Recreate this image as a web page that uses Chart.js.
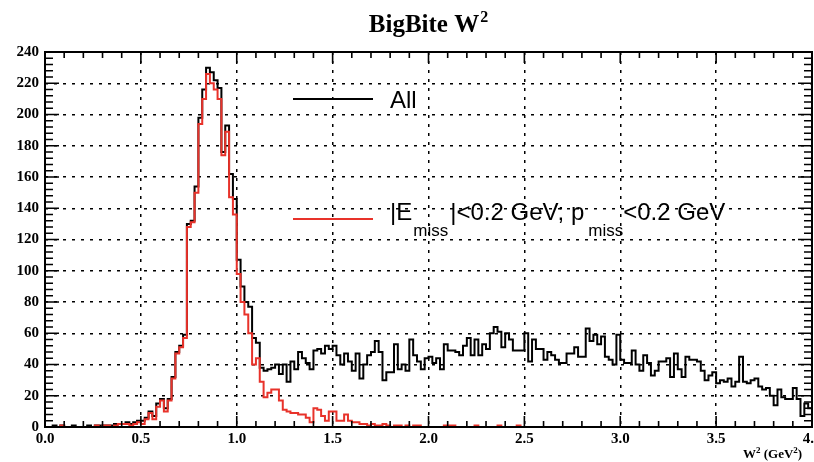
<!DOCTYPE html>
<html>
<head>
<meta charset="utf-8">
<script src="https://cdn.jsdelivr.net/npm/chart.js@4.4.1/dist/chart.umd.min.js"></script>
<style>
  html, body { margin: 0; padding: 0; background: #fff; }
  #contenedor { width: 814px; height: 462px; position: relative; }
</style>
</head>
<body>
<div id="contenedor"><canvas id="grafico-w2"></canvas></div>
<script>
// --- DATOS DEL HISTOGRAMA ---
// 200 bins de 0.02 GeV^2 entre 0 y 4
const W2_MIN = 0.0;
const W2_MAX = 4.0;
const N_BINS = 200;

// Todos los eventos (negro)
const conteoTodos = [
    0, 0, 1, 0, 1, 0, 0, 1, 0, 0,          // 0.0 - 0.2
    0, 1, 0, 1, 1, 1, 1, 1, 2, 2,
    2, 3, 2, 3, 4, 4, 6, 10, 7, 15,        // 0.4 - 0.6
    18, 12, 18, 32, 48, 52, 59, 130, 132, 154,
    198, 216, 230, 227, 222, 217, 176, 193, 162, 146,   // 0.8 - 1.0
    107, 90, 80, 77, 57, 54, 38, 36, 37, 38,
    40, 34, 40, 29, 42, 37, 48, 44, 41, 37,  // 1.2 - 1.4
    49, 50, 47, 52, 50, 52, 46, 40, 47, 42,
    36, 47, 31, 40, 46, 48, 55, 48, 30, 35,  // 1.6 - 1.8
    35, 53, 37, 40, 36, 56, 46, 42, 37, 44,
    45, 41, 44, 37, 53, 49, 49, 48, 46, 52,  // 2.0 - 2.2
    57, 46, 56, 46, 53, 50, 60, 64, 61, 51,
    60, 56, 49, 49, 49, 60, 42, 56, 50, 50,  // 2.4 - 2.6
    43, 48, 46, 43, 41, 41, 47, 47, 51, 45,
    45, 63, 55, 59, 53, 58, 45, 43, 40, 59,  // 2.8 - 3.0
    43, 41, 41, 49, 40, 36, 46, 41, 33, 36,
    42, 42, 44, 32, 47, 37, 32, 45, 43, 43,  // 3.2 - 3.4
    42, 36, 30, 33, 35, 28, 30, 29, 31, 26,
    29, 45, 29, 28, 30, 31, 26, 24, 25, 20,  // 3.6 - 3.8
    14, 24, 19, 18, 18, 25, 18, 7, 15, 12
];

// Con corte |E_miss| < 0.2 GeV, p_miss < 0.2 GeV (rojo)
const conteoCorte = [
    0, 0, 0, 0, 1, 0, 0, 0, 0, 0,
    0, 0, 0, 1, 0, 1, 1, 0, 1, 2,
    2, 2, 1, 2, 3, 2, 5, 9, 5, 13,
    17, 10, 17, 31, 47, 51, 57, 128, 131, 150,
    194, 210, 226, 220, 216, 210, 174, 189, 147, 136,
    98, 80, 72, 60, 40, 44, 29, 19, 22, 24,
    24, 17, 11, 10, 9, 9, 8, 8, 6, 3,
    12, 11, 7, 4, 10, 10, 4, 4, 8, 4,
    3, 3, 2, 2, 1, 2, 1, 1, 2, 1,
    0, 1, 1, 0, 1, 0, 1, 1, 0, 0,
    0, 0, 0, 0, 1, 1, 1, 0, 0, 0,
    0, 0, 1, 0, 0, 0, 0, 0, 1, 0,
    0, 0, 0, 1, 0, 0, 0, 0, 0, 0,
    0, 0, 0, 0, 0, 0, 0, 0, 0, 0,
    0, 0, 0, 0, 0, 0, 0, 0, 0, 0,
    0, 0, 0, 0, 0, 0, 0, 0, 0, 0,
    0, 0, 0, 0, 0, 0, 0, 0, 0, 0,
    0, 0, 0, 0, 0, 0, 0, 0, 0, 0,
    0, 0, 0, 0, 0, 0, 0, 0, 0, 0,
    0, 0, 0, 0, 0, 0, 0, 0, 0, 0
];

const ticksX = [0.0, 0.5, 1.0, 1.5, 2.0, 2.5, 3.0, 3.5, 4.0];
const etiquetasX = ['0.0', '0.5', '1.0', '1.5', '2.0', '2.5', '3.0', '3.5', '4.0'];
const ticksY = [0, 20, 40, 60, 80, 100, 120, 140, 160, 180, 200, 220, 240];

const ROJO = '#e8322a';
const FUENTE_EJES = 'bold 15px "Liberation Serif", "DejaVu Serif", serif';

// Convierte los conteos en puntos {x, y} en el borde izquierdo de cada bin
function puntosHistograma(conteos) {
    const ancho = (W2_MAX - W2_MIN) / N_BINS;
    const pts = conteos.map((c, i) => ({ x: W2_MIN + i * ancho, y: c }));
    pts.push({ x: W2_MAX, y: conteos[conteos.length - 1] }); // cierra el último escalón
    return pts;
}

// Dibuja un texto por partes (para sub/superíndices)
function textoPartes(ctx, partes, x, y) {
    partes.forEach(([t, fuente, dy, dx]) => {
        ctx.font = fuente;
        x += dx || 0;
        ctx.fillText(t, x, y + dy);
        x += ctx.measureText(t).width;
    });
}

// --- MARCO, TICKS, TÍTULO Y LEYENDA ESTILO ROOT ---
const estiloRoot = {
    id: 'estiloRoot',
    afterDraw(chart) {
        const { ctx, chartArea: a, scales: { x, y } } = chart;
        ctx.save();
        ctx.strokeStyle = '#000';
        ctx.lineWidth = 1.6;
        ctx.beginPath();
        for (let i = 0; i <= 40; i++) {
            const px = x.getPixelForValue(i / 10);
            const largo = i % 5 === 0 ? 11 : 6;
            ctx.moveTo(px, a.bottom); ctx.lineTo(px, a.bottom - largo);
            ctx.moveTo(px, a.top); ctx.lineTo(px, a.top + largo);
        }
        for (let v = 0; v <= 240; v += 4) {
            const py = y.getPixelForValue(v);
            const largo = v % 20 === 0 ? 14 : 8;
            ctx.moveTo(a.left, py); ctx.lineTo(a.left + largo, py);
            ctx.moveTo(a.right, py); ctx.lineTo(a.right - largo, py);
        }
        ctx.stroke();
        ctx.lineWidth = 2;
        ctx.strokeRect(a.left, a.top, a.right - a.left, a.bottom - a.top);

        // Título
        ctx.fillStyle = '#000';
        ctx.textBaseline = 'alphabetic';
        const fT = 'bold 25px "Liberation Serif", serif';
        const fTs = 'bold 16px "Liberation Serif", serif';
        ctx.font = fT;
        const w1 = ctx.measureText('BigBite W').width;
        ctx.font = fTs;
        const w2 = ctx.measureText('2').width;
        textoPartes(ctx, [['BigBite W', fT, 0], ['2', fTs, -10, 1]], 428 - (w1 + w2) / 2, 32);

        // Título del eje X
        const fE = 'bold 13px "Liberation Serif", serif';
        const fEs = 'bold 9px "Liberation Serif", serif';
        textoPartes(ctx, [['W', fE, 0], ['2', fEs, -5], [' (GeV', fE, 0], ['2', fEs, -5], [')', fE, 0]], 743, 458);

        // Leyenda
        const fL = '24px "Liberation Sans", Arial, sans-serif';
        const fLs = '17px "Liberation Sans", Arial, sans-serif';
        ctx.lineWidth = 2;
        ctx.strokeStyle = '#000';
        ctx.beginPath(); ctx.moveTo(293, 99); ctx.lineTo(373, 99); ctx.stroke();
        textoPartes(ctx, [['All', fL, 0]], 390, 108);
        ctx.strokeStyle = ROJO;
        ctx.beginPath(); ctx.moveTo(293, 219); ctx.lineTo(373, 219); ctx.stroke();
        textoPartes(ctx, [
            ['|E', fL, 0], ['miss', fLs, 16, 1], ['|<0.2 GeV; p', fL, 0, 2],
            ['miss', fLs, 16, 4], ['<0.2 GeV', fL, 0]
        ], 390, 220);
        ctx.restore();
    }
};

// --- GRÁFICO ---
const ctx = document.getElementById('grafico-w2').getContext('2d');

new Chart(ctx, {
    type: 'line',
    data: {
        datasets: [
            {
                label: '|E_miss|<0.2 GeV; p_miss<0.2 GeV',
                data: puntosHistograma(conteoCorte),
                borderColor: ROJO,
                borderWidth: 2,
                stepped: true,
                pointRadius: 0,
                fill: false
            },
            {
                label: 'All',
                data: puntosHistograma(conteoTodos),
                borderColor: '#000',
                borderWidth: 2,
                stepped: true,
                pointRadius: 0,
                fill: false
            }
        ]
    },
    options: {
        responsive: true,
        maintainAspectRatio: false,
        animation: false,
        events: [],
        layout: { padding: { top: 52, right: 2, left: 0, bottom: 0 } },
        plugins: {
            legend: { display: false },
            title: { display: false },
            tooltip: { enabled: false }
        },
        scales: {
            x: {
                type: 'linear',
                min: W2_MIN,
                max: W2_MAX,
                afterBuildTicks: s => { s.ticks = ticksX.map(v => ({ value: v })); },
                afterFit: s => { s.height = 35; s.paddingLeft = 0; s.paddingRight = 0; },
                ticks: {
                    color: '#000',
                    font: { family: '"Liberation Serif", serif', size: 15, weight: 'bold' },
                    padding: 3,
                    maxRotation: 0,
                    autoSkip: false,
                    callback: (v, i) => etiquetasX[i]
                },
                grid: { color: '#000', lineWidth: 1.5, drawTicks: false },
                border: { display: false, dash: [3, 6] }
            },
            y: {
                min: 0,
                max: 240,
                afterBuildTicks: s => { s.ticks = ticksY.map(v => ({ value: v })); },
                afterFit: s => { s.width = 45; s.paddingTop = 0; s.paddingBottom = 0; },
                ticks: {
                    color: '#000',
                    font: { family: '"Liberation Serif", serif', size: 15, weight: 'bold' },
                    padding: 6,
                    autoSkip: false
                },
                grid: { color: '#000', lineWidth: 1.5, drawTicks: false },
                border: { display: false, dash: [3, 6] }
            }
        }
    },
    plugins: [estiloRoot]
});
</script>
</body>
</html>
